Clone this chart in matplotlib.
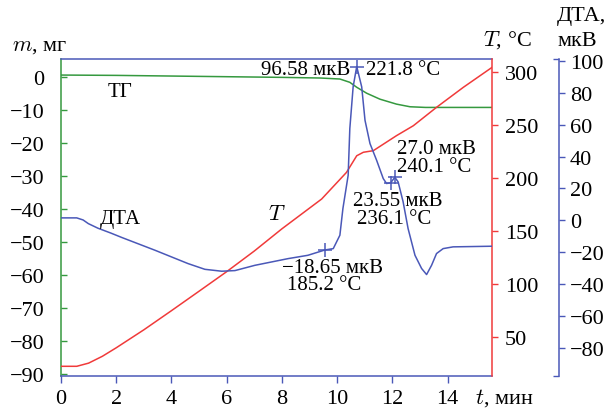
import matplotlib
matplotlib.use("Agg")
import matplotlib.pyplot as plt

plt.rcParams['font.family'] = ['Liberation Serif', 'DejaVu Serif']
plt.rcParams['mathtext.fontset'] = 'cm'
plt.rcParams['axes.unicode_minus'] = True

# ---- data ----
tg_t = [0, 2, 4, 6, 8, 9.4, 10.1, 10.46, 10.71, 11.07, 11.55, 12.15, 12.64, 13.2, 15.6]
tg_m = [0.5, 0.4, 0.2, 0.0, -0.2, -0.4, -0.7, -1.7, -3.2, -5.0, -6.8, -8.3, -9.1, -9.3, -9.3]

temp_t = [0, 0.57, 1.0, 1.5, 2.0, 3.0, 4.0, 5.0, 6.0, 7.0, 8.0, 9.44, 10.34, 10.71, 10.95,
          11.31, 12.15, 12.76, 13.60, 14.57, 15.6]
temp_T = [22.0, 22.0, 25.0, 31.5, 39.5, 56.5, 74.6, 93.0, 111.5, 131.0, 152.0, 180.2, 205.4,
          221.1, 224.4, 225.9, 240.1, 249.5, 266.9, 285.8, 304.5]

dta_t = [0, 0.57, 0.8, 0.99, 1.34, 1.8, 2.20, 3.40, 4.60, 5.21, 5.82, 6.30, 7.02, 8.22, 8.94,
         9.56, 9.86, 10.10, 10.21, 10.40, 10.46, 10.58, 10.71, 10.89, 11.01, 11.19, 11.43,
         11.67, 11.79, 11.94, 12.09, 12.21, 12.39, 12.57, 12.82, 13.06, 13.24, 13.42, 13.60,
         13.84, 14.20, 15.6]
dta_v = [1.5, 1.5, 0.2, -2.1, -5.0, -8.0, -10.8, -18.8, -27.2, -30.8, -32.0, -31.6, -28.3,
         -24.1, -22.0, -18.65, -17.8, -9.4, 7.4, 28.3, 57.6, 83.8, 96.58, 83.8, 62.8, 48.2,
         37.7, 26.2, 23.1, 23.55, 27.0, 24.1, 11.6, -5.2, -22.0, -30.3, -34.1, -28.3, -20.9,
         -17.8, -16.7, -16.3]

mark_t = [9.56, 10.71, 11.94, 12.09]
mark_dta = [-18.65, 96.58, 23.55, 27.0]
mark_T = [185.2, 221.8, 236.1, 240.1]

x_ticks = [0, 2, 4, 6, 8, 10, 12, 14]
m_ticks = [0, -10, -20, -30, -40, -50, -60, -70, -80, -90]
T_ticks = [50, 100, 150, 200, 250, 300]
dta_ticks = [100, 80, 60, 40, 20, 0, -20, -40, -60, -80]

# ---- style ----
GREEN = '#35993f'
RED = '#f03a3a'
BLUE = '#4a58b8'
FS_TICK = 16
FS_TXT = 15

W, H = 616, 410
fig = plt.figure(figsize=(W / 100, H / 100), dpi=100)
L, R, T_, B = 61, 492.3, 60, 376.5
ax = fig.add_axes([L / W, 1 - B / H, (R - L) / W, (B - T_) / H])
ax2 = ax.twinx()
ax3 = ax.twinx()

# main axis (mass)
ax.plot(tg_t, tg_m, color=GREEN, lw=1.1)
ax.set_xlim(0, 15.62)
ax.set_ylim(-90.46, 5.36)
ax.set_xticks(x_ticks)
ax.set_yticks(m_ticks)
ax.spines['left'].set_color(GREEN)
ax.spines['top'].set_color(BLUE)
ax.spines['bottom'].set_color(BLUE)
ax.spines['right'].set_visible(False)
for s in ax.spines.values():
    s.set_linewidth(1.1)
ax.tick_params(axis='x', direction='out', length=5, width=1, color=BLUE,
               labelsize=FS_TICK, pad=4.5)
ax.tick_params(axis='y', direction='in', length=4, width=1, color=GREEN,
               labelsize=FS_TICK, pad=12)

# temperature axis
ax2.plot(temp_t, temp_T, color=RED, lw=1.1)
ax2.set_ylim(13.3, 312.6)
ax2.set_yticks(T_ticks)
for k in ['left', 'top', 'bottom']:
    ax2.spines[k].set_visible(False)
ax2.spines['right'].set_color(RED)
ax2.spines['right'].set_linewidth(1.1)
ax2.tick_params(axis='y', direction='out', length=4, width=1, color=RED,
                labelsize=FS_TICK, pad=5)

# DTA axis
ax3.plot(dta_t, dta_v, color=BLUE, lw=1.1)
ax3.plot(mark_t, mark_dta, ls='none', marker='+', ms=10, mew=1.1, color=BLUE)
ax3.set_ylim(-97.5, 101.3)
ax3.set_yticks(dta_ticks)
ax3.set_yticks([-97.5, 101.3], minor=True)
for k in ['left', 'top', 'bottom']:
    ax3.spines[k].set_visible(False)
ax3.spines['right'].set_position(('axes', (558.7 - L) / (R - L)))
ax3.spines['right'].set_color(BLUE)
ax3.spines['right'].set_linewidth(1.1)
ax3.tick_params(axis='y', which='major', direction='out', length=4, width=1, color=BLUE,
                labelsize=FS_TICK, pad=4)
ax3.tick_params(axis='y', which='minor', direction='in', length=4, width=1, color=BLUE)

# annotations
def fmt(v):
    return f"{v}".replace('-', '\u2212')

lab_pos = [
    ((8.00, -29.5), (8.18, -40.3)),
    ((10.46, 95.0), (11.04, 95.0)),
    ((10.58, 12.6), (10.71, 1.1)),
    ((12.17, 45.0), (12.17, 33.5)),
]
for i, (p1, p2) in enumerate(lab_pos):
    v_txt = f"{fmt(mark_dta[i])} мкВ"
    t_txt = f"{mark_T[i]} °C"
    ax3.text(p1[0], p1[1], v_txt, ha='right' if i == 1 else 'left', va='center',
             fontsize=FS_TXT)
    ax3.text(p2[0], p2[1], t_txt, ha='left', va='center', fontsize=FS_TXT)

ax3.text(1.41, 1.1, 'ДТА', ha='left', va='center', fontsize=FS_TXT)
ax3.text(7.49, 3.5, '$T$', ha='left', va='center', fontsize=FS_TXT + 1)
ax.text(1.70, -4.6, 'ТГ', ha='left', va='center', fontsize=FS_TXT)

# axis labels
def ftxt(x, y, s, **kw):
    fig.text(x / W, 1 - y / H, s, **kw)

ftxt(11.5, 46.5, '$m$, мг', ha='left', va='center', fontsize=FS_TICK)
ftxt(483, 40, '$T$, °C', ha='left', va='center', fontsize=FS_TICK)
ftxt(557, 17, 'ДТА,', ha='left', va='center', fontsize=FS_TICK)
ftxt(558, 41, 'мкВ', ha='left', va='center', fontsize=FS_TICK)
ftxt(475, 398, '$t$, мин', ha='left', va='center', fontsize=FS_TICK)

fig.savefig('out.png', dpi=100)
